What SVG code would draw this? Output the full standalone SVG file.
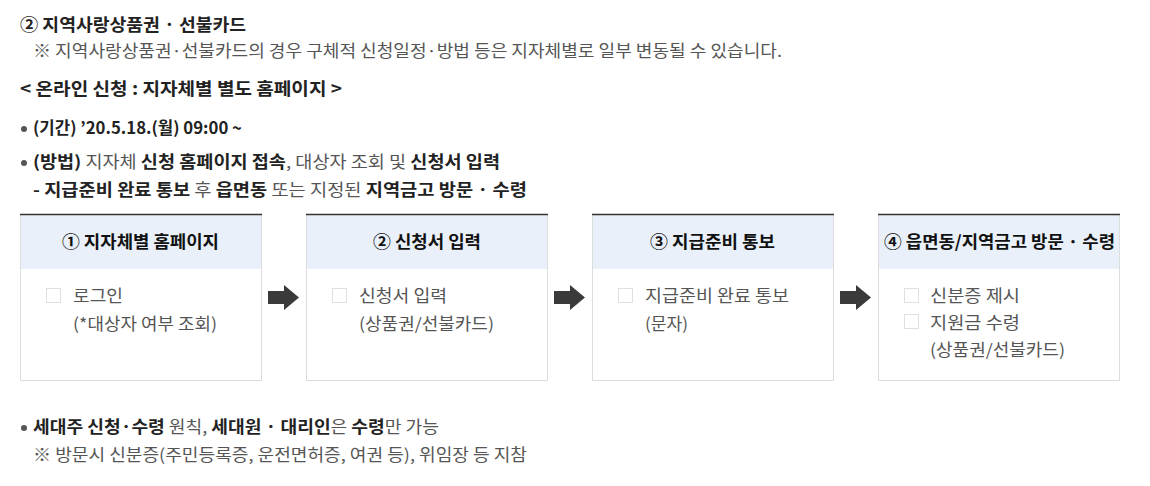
<svg xmlns="http://www.w3.org/2000/svg" width="1150" height="486" viewBox="0 0 1150 486">
<style>
text{font-family:"Noto Sans CJK KR","Noto Sans",sans-serif;}
.t{font-size:17.5px;font-weight:bold;fill:#222;}
.n{font-size:16.5px;fill:#555;}
.b{font-weight:bold;fill:#222;}
.h{font-size:17px;font-weight:bold;fill:#111;}
.bd{font-size:16.5px;fill:#555;}
.box{fill:#fff;stroke:#ddd;stroke-width:1;}
.hd{fill:#e9f0f9;}
.top{stroke:#333;stroke-width:1.5;}
.cb{fill:#fff;stroke:#e0e0e0;stroke-width:1;}
.dot{fill:#555;}
.arr{fill:#3a3a3a;}
</style>
<rect width="1150" height="486" fill="#fff"/>
<g id="header-text">
<text class="t" x="20" y="31" textLength="226" lengthAdjust="spacingAndGlyphs">② 지역사랑상품권 · 선불카드</text>
<text class="n" x="33" y="57" textLength="749" lengthAdjust="spacingAndGlyphs">※ 지역사랑상품권·선불카드의 경우 구체적 신청일정·방법 등은 지자체별로 일부 변동될 수 있습니다.</text>
<text class="t" x="20" y="95" textLength="322" lengthAdjust="spacingAndGlyphs">&lt; 온라인 신청 : 지자체별 별도 홈페이지 &gt;</text>
<circle class="dot" cx="24" cy="129" r="3"/>
<text class="n" x="33" y="134" textLength="209" lengthAdjust="spacingAndGlyphs"><tspan class="b">(기간) ’20.5.18.(월) 09:00 ~</tspan></text>
<circle class="dot" cx="24" cy="163" r="3"/>
<text class="n" x="33" y="168" textLength="467" lengthAdjust="spacingAndGlyphs"><tspan class="b">(방법)</tspan> 지자체 <tspan class="b">신청 홈페이지 접속</tspan>, 대상자 조회 및 <tspan class="b">신청서 입력</tspan></text>
<text class="n" x="33" y="196" textLength="494" lengthAdjust="spacingAndGlyphs"><tspan class="b">- 지급준비 완료 통보</tspan> 후 <tspan class="b">읍면동</tspan> 또는 지정된 <tspan class="b">지역금고 방문 · 수령</tspan></text>
</g>
<g id="node1">
<rect class="box" x="20.5" y="214.5" width="241" height="166"/>
<rect class="hd" x="21" y="215" width="240" height="54"/>
<line class="top" x1="20" y1="214.5" x2="262" y2="214.5"/>
<text class="h" x="62" y="248" textLength="157" lengthAdjust="spacingAndGlyphs">① 지자체별 홈페이지</text>
<rect class="cb" x="46.5" y="288.5" width="14" height="14"/>
<text class="bd" x="73" y="302" textLength="50" lengthAdjust="spacingAndGlyphs">로그인</text>
<text class="bd" x="73" y="330" textLength="144" lengthAdjust="spacingAndGlyphs">(*대상자 여부 조회)</text>
</g>
<g id="node2">
<rect class="box" x="306.5" y="214.5" width="241" height="166"/>
<rect class="hd" x="307" y="215" width="240" height="54"/>
<line class="top" x1="306" y1="214.5" x2="548" y2="214.5"/>
<text class="h" x="373" y="248" textLength="108" lengthAdjust="spacingAndGlyphs">② 신청서 입력</text>
<rect class="cb" x="332.5" y="288.5" width="14" height="14"/>
<text class="bd" x="359" y="302" textLength="88" lengthAdjust="spacingAndGlyphs">신청서 입력</text>
<text class="bd" x="359" y="330" textLength="135" lengthAdjust="spacingAndGlyphs">(상품권/선불카드)</text>
</g>
<g id="node3">
<rect class="box" x="592.5" y="214.5" width="241" height="166"/>
<rect class="hd" x="593" y="215" width="240" height="54"/>
<line class="top" x1="592" y1="214.5" x2="834" y2="214.5"/>
<text class="h" x="650" y="248" textLength="125" lengthAdjust="spacingAndGlyphs">③ 지급준비 통보</text>
<rect class="cb" x="618.5" y="288.5" width="14" height="14"/>
<text class="bd" x="645" y="302" textLength="144" lengthAdjust="spacingAndGlyphs">지급준비 완료 통보</text>
<text class="bd" x="645" y="330" textLength="43" lengthAdjust="spacingAndGlyphs">(문자)</text>
</g>
<g id="node4">
<rect class="box" x="878.5" y="214.5" width="241" height="166"/>
<rect class="hd" x="879" y="215" width="240" height="54"/>
<line class="top" x1="878" y1="214.5" x2="1120" y2="214.5"/>
<text class="h" x="884" y="248" textLength="231" lengthAdjust="spacingAndGlyphs">④ 읍면동/지역금고 방문 · 수령</text>
<rect class="cb" x="904.5" y="288.5" width="14" height="14"/>
<text class="bd" x="930" y="302" textLength="90" lengthAdjust="spacingAndGlyphs">신분증 제시</text>
<rect class="cb" x="904.5" y="314.5" width="14" height="14"/>
<text class="bd" x="930" y="329" textLength="90" lengthAdjust="spacingAndGlyphs">지원금 수령</text>
<text class="bd" x="930" y="356" textLength="135" lengthAdjust="spacingAndGlyphs">(상품권/선불카드)</text>
</g>
<g id="connectors">
<polygon class="arr" points="268,291 284,291 284,285 299,297.5 284,310 284,304 268,304"/>
<polygon class="arr" points="554,291 570,291 570,285 585,297.5 570,310 570,304 554,304"/>
<polygon class="arr" points="840,291 856,291 856,285 871,297.5 856,310 856,304 840,304"/>
</g>
<g id="footer-text">
<circle class="dot" cx="24" cy="428" r="3"/>
<text class="n" x="33" y="433" textLength="406" lengthAdjust="spacingAndGlyphs"><tspan class="b">세대주 신청·수령</tspan> 원칙, <tspan class="b">세대원 · 대리인</tspan>은 <tspan class="b">수령</tspan>만 가능</text>
<text class="n" x="33" y="461" textLength="494" lengthAdjust="spacingAndGlyphs">※ 방문시 신분증(주민등록증, 운전면허증, 여권 등), 위임장 등 지참</text>
</g>
</svg>
